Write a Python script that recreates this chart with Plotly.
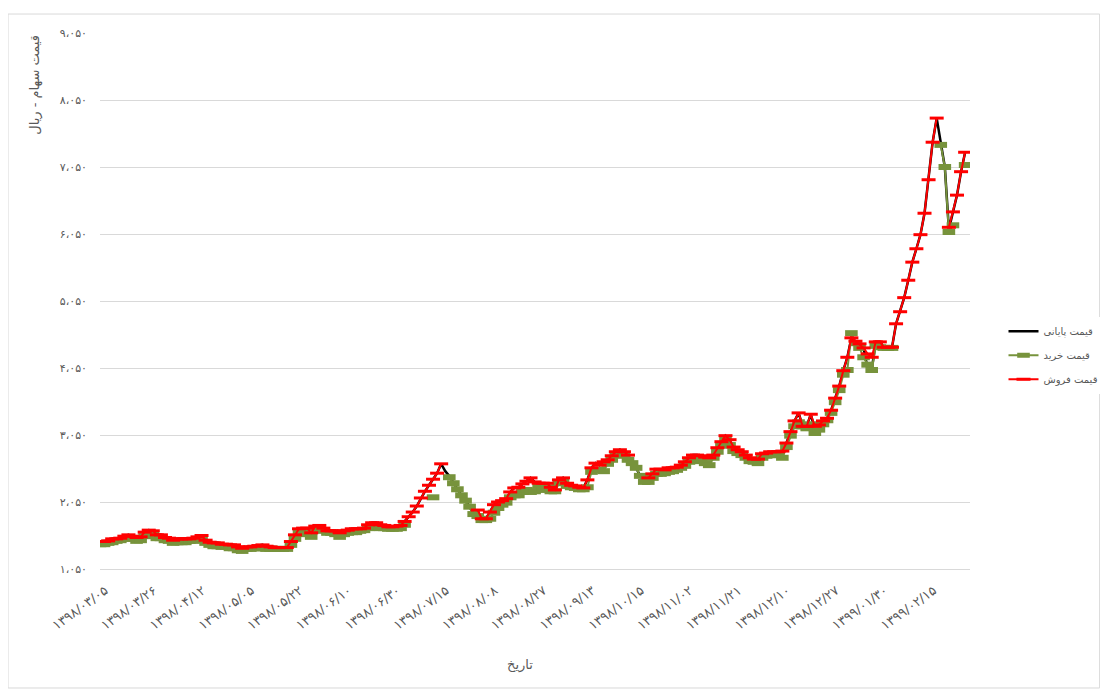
import plotly.graph_objects as go

# tick labels on the date axis (one every 12 trading days)
date_labels = ['۱۳۹۸/۰۳/۰۵', '۱۳۹۸/۰۳/۲۶', '۱۳۹۸/۰۴/۱۲', '۱۳۹۸/۰۵/۰۵', '۱۳۹۸/۰۵/۲۲',
               '۱۳۹۸/۰۶/۱۰', '۱۳۹۸/۰۶/۳۰', '۱۳۹۸/۰۷/۱۵', '۱۳۹۸/۰۸/۰۸', '۱۳۹۸/۰۸/۲۷',
               '۱۳۹۸/۰۹/۱۳', '۱۳۹۸/۱۰/۱۵', '۱۳۹۸/۱۱/۰۲', '۱۳۹۸/۱۱/۲۱', '۱۳۹۸/۱۲/۱۰',
               '۱۳۹۸/۱۲/۲۷', '۱۳۹۹/۰۱/۳۰', '۱۳۹۹/۰۲/۱۵']
label_pos = [0, 12, 24, 36, 48, 60, 72, 84, 96, 108, 120, 132, 144, 156, 168, 180, 192, 204]

y_vals = [1050, 2050, 3050, 4050, 5050, 6050, 7050, 8050, 9050]
y_text = ['۱،۰۵۰', '۲،۰۵۰', '۳،۰۵۰', '۴،۰۵۰', '۵،۰۵۰', '۶،۰۵۰', '۷،۰۵۰', '۸،۰۵۰', '۹،۰۵۰']

# sell price (قیمت فروش)
sell = [1460, 1460, 1470, 1500, 1500, 1510, 1540, 1560, 1540, 1520, 1530, 1600,
        1630, 1620, 1560, 1560, 1520, 1510, 1480, 1500, 1500, 1500, 1500, 1510,
        1530, 1550, 1480, 1450, 1440, 1440, 1420, 1420, 1410, 1410, 1380, 1360,
        1380, 1380, 1390, 1400, 1410, 1390, 1380, 1370, 1370, 1370, 1370, 1460,
        1560, 1650, 1660, 1660, 1590, 1690, 1700, 1660, 1620, 1620, 1620, 1590,
        1620, 1630, 1650, 1650, 1650, 1660, 1710, 1740, 1740, 1710, 1700, 1680,
        1680, 1690, 1700, 1760, 1830, 1900, 1990, 2110, 2210, 2300, 2390, 2480,
        2620, None, None, None, None, None, None, None, None, 1930, 1800, 1800,
        1900, 2010, 2050, 2070, 2100, 2200, 2260, 2270, 2320, 2360, 2410, 2350,
        2330, 2330, 2330, 2270, 2230, 2380, 2410, 2330, 2300, 2290, 2270, 2260,
        2380, 2560, 2630, 2600, 2650, 2680, 2740, 2800, 2830, 2800, 2750, None,
        None, None, None, 2410, 2470, 2540, 2540, 2530, 2560, 2560, 2570, 2600,
        2650, 2710, 2750, 2750, 2740, 2720, 2710, 2750, 2860, 2950, 3040, 2980,
        2870, 2830, 2800, 2750, 2710, 2690, 2690, 2770, 2780, 2800, 2800, 2800,
        2810, 2930, 3100, 3260, 3380, 3180, 3180, 3360, 3180, 3200, 3260, 3300,
        3420, 3600, 3780, 4010, 4210, 4500, 4450, 4410, 4350, 4260, 4210, 4440,
        4440, 4360, 4360, 4360, 4710, 4890, 5100, 5360, 5630, 5830, 6040, 6360,
        6860, 7420, 7780, None, None, 6150, 6380, 6630, 6980, 7270]

# buy price (قیمت خرید)
buy = [1420, 1420, 1440, 1450, 1470, 1480, 1500, 1510, 1500, 1470, 1480, 1540,
       1570, 1570, 1510, 1510, 1480, 1470, 1440, 1450, 1450, 1450, 1470, 1470,
       1480, 1500, 1440, 1410, 1390, 1390, 1380, 1380, 1360, 1360, 1330, 1320,
       1350, 1350, 1360, 1360, 1360, 1350, 1350, 1350, 1350, 1350, 1350, 1410,
       1500, 1590, 1600, 1570, 1530, 1630, 1650, 1620, 1590, 1590, 1570, 1530,
       1570, 1590, 1600, 1600, 1620, 1630, 1660, 1690, 1690, 1660, 1660, 1650,
       1650, 1650, 1660, 1710, None, None, None, None, None, None, 2120, None,
       None, None, 2420, 2330, 2240, 2150, 2070, 1980, 1870, 1840, 1780, 1780,
       1800, 1890, 1960, 2010, 2040, 2120, 2150, 2150, 2200, 2230, 2200, 2210,
       2290, 2230, 2270, 2210, 2210, 2330, 2350, 2290, 2270, 2260, 2240, 2240,
       2270, 2500, 2530, 2530, 2510, 2620, 2680, 2740, 2770, 2750, 2680, 2630,
       2560, 2440, 2350, 2350, 2410, 2470, 2470, 2480, 2500, 2510, 2530, 2560,
       2590, 2650, 2690, 2680, 2660, 2630, 2600, 2710, 2800, 2890, 2980, 2900,
       2810, 2780, 2750, 2710, 2660, 2650, 2630, 2710, 2740, 2750, 2750, 2750,
       2710, 2870, 3040, 3180, 3240, 3180, 3150, 3210, 3080, 3130, 3210, 3270,
       3380, 3540, 3720, 3950, 4020, 4570, 4420, 4350, 4210, 4100, 4020, 4380,
       4360, 4350, 4350, 4350, None, None, None, None, None, None, None, None,
       None, None, None, 7380, 7050, 6080, 6180, None, None, 7080]

# closing price (قیمت پایانی)
close = [1460, 1460, 1470, 1500, 1500, 1510, 1540, 1560, 1540, 1520, 1530, 1600,
         1630, 1620, 1560, 1560, 1520, 1510, 1480, 1500, 1500, 1500, 1500, 1510,
         1530, 1550, 1480, 1450, 1440, 1440, 1420, 1420, 1410, 1410, 1380, 1360,
         1380, 1380, 1390, 1400, 1410, 1390, 1380, 1370, 1370, 1370, 1370, 1460,
         1560, 1650, 1660, 1660, 1590, 1690, 1700, 1660, 1620, 1620, 1620, 1590,
         1620, 1630, 1650, 1650, 1650, 1660, 1710, 1740, 1740, 1710, 1700, 1680,
         1680, 1690, 1700, 1760, 1830, 1900, 1990, 2110, 2210, 2300, 2390, 2480,
         2620, 2510, 2440, 2330, 2240, 2150, 2070, 1980, 1870, 1900, 1800, 1800,
         1900, 2010, 2050, 2070, 2100, 2200, 2260, 2270, 2320, 2360, 2410, 2350,
         2330, 2330, 2330, 2270, 2230, 2380, 2410, 2330, 2300, 2290, 2270, 2260,
         2380, 2560, 2630, 2600, 2650, 2680, 2740, 2800, 2830, 2800, 2750, 2630,
         2560, 2440, 2350, 2410, 2470, 2540, 2540, 2530, 2560, 2560, 2570, 2600,
         2650, 2710, 2750, 2750, 2740, 2720, 2710, 2750, 2860, 2950, 3040, 2980,
         2870, 2830, 2800, 2750, 2710, 2690, 2690, 2770, 2780, 2800, 2800, 2800,
         2810, 2930, 3100, 3260, 3380, 3180, 3180, 3360, 3130, 3200, 3260, 3300,
         3420, 3600, 3780, 4010, 4210, 4500, 4450, 4410, 4350, 4040, 4020, 4440,
         4440, 4360, 4360, 4360, 4710, 4890, 5100, 5360, 5630, 5830, 6040, 6360,
         6860, 7420, 7780, 7380, 7050, 6120, 6380, 6630, 6980, 7270]

x = list(range(len(close)))
text_color = '#595959'
font_family = 'DejaVu Sans'

fig = go.Figure()
fig.add_trace(go.Scatter(x=x, y=close, mode='lines', name='قیمت پایانی', legendgroup='a',
                         line=dict(color='black', width=2.5)))
fig.add_trace(go.Scatter(x=x, y=buy, mode='lines+markers', name='قیمت خرید', legendgroup='b',
                         line=dict(color='#77933C', width=2),
                         marker=dict(symbol='line-ew-open', size=9,
                                     line=dict(color='#77933C', width=6))))
fig.add_trace(go.Scatter(x=x, y=sell, mode='lines+markers', name='قیمت فروش', legendgroup='c',
                         line=dict(color='#FF0000', width=2),
                         marker=dict(symbol='line-ew-open', size=10,
                                     line=dict(color='#FF0000', width=3))))

# page body adds an 8px offset, so the figure is 1100x681
fig.update_layout(
    width=1100, height=681,
    margin=dict(l=92, r=138, t=25, b=120),
    paper_bgcolor='white', plot_bgcolor='white',
    font=dict(family=font_family, size=11, color=text_color),
    legend=dict(xref='container', yref='container', x=0.905, y=0.49,
                xanchor='left', yanchor='middle', traceorder='grouped',
                font=dict(size=10, color=text_color), tracegroupgap=5),
    showlegend=True,
)
fig.update_xaxes(range=[0, 214.2], tickmode='array', tickvals=label_pos, ticktext=date_labels,
                 tickangle=-36, showgrid=False, zeroline=False, showline=True,
                 linecolor='#d9d9d9', linewidth=1, ticks='', automargin=False,
                 ticklabelstandoff=8, ticklabelshift=5,
                 tickfont=dict(size=13, color=text_color))
fig.update_yaxes(range=[1050, 9050], tickmode='array', tickvals=y_vals, ticktext=y_text,
                 showgrid=True, gridcolor='#d9d9d9', gridwidth=1, zeroline=False,
                 showline=False, ticks='', ticklabelstandoff=12, automargin=False,
                 tickfont=dict(size=11, color=text_color))

fig.add_annotation(text='قیمت سهام - ریال', xref='paper', yref='paper',
                   x=-0.075, y=0.903, xanchor='center', yanchor='middle',
                   textangle=-90, showarrow=False,
                   font=dict(size=13, color=text_color))
fig.add_annotation(text='تاریخ', xref='paper', yref='paper',
                   x=0.483, y=-0.179, xanchor='center', yanchor='middle',
                   showarrow=False, font=dict(size=13, color=text_color))
fig.add_shape(type='rect', xref='paper', yref='paper',
              x0=-0.1057, x1=1.149, y0=-0.222, y1=1.0354,
              line=dict(color='#d9d9d9', width=1), layer='below')

fig.write_html('out.html')
